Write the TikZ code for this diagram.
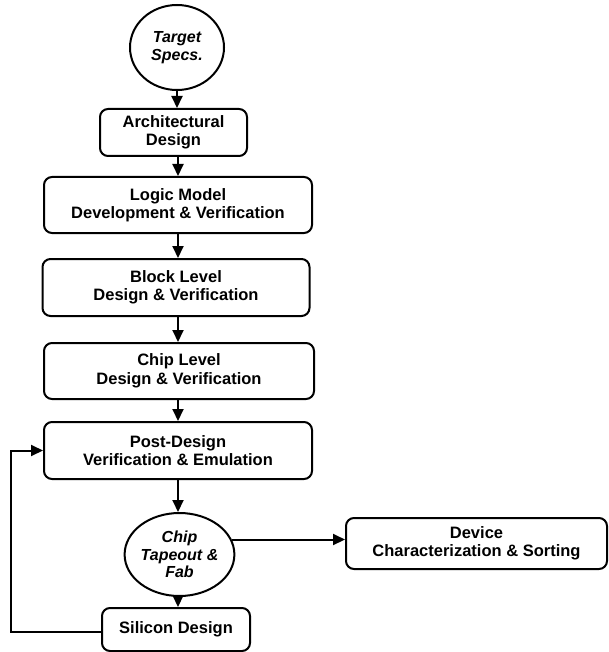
\documentclass[tikz,border=0pt]{standalone}
\usepackage{fontspec}
\setmainfont{Liberation Sans}
\usetikzlibrary{arrows.meta,shapes.geometric}
\tikzset{
  base/.style={draw, line width=2pt, inner sep=0pt, align=center,
    font=\fontsize{16.5}{18.5}\selectfont\bfseries},
  stepbox/.style={base, rounded corners=8pt},
  oval/.style={base, ellipse, font=\fontsize{16}{17.5}\selectfont\bfseries\itshape},
  arr/.style={line width=2pt, -{Triangle[length=12pt,width=11pt]}}
}
\begin{document}
\begin{tikzpicture}[x=1pt,y=-1pt]
\useasboundingbox (0,0) rectangle (608,652);
\node[oval, minimum width=94pt, minimum height=85pt] (target) at (177,47.5) {Target\\Specs.};
\node[stepbox, minimum width=147pt, minimum height=47pt] (arch) at (173.5,132.5) {Architectural\\Design};
\node[stepbox, minimum width=268pt, minimum height=56pt] (logic) at (178,205) {Logic Model\\Development \& Verification};
\node[stepbox, minimum width=267pt, minimum height=57pt] (block) at (176,287.5) {Block Level\\Design \& Verification};
\node[stepbox, minimum width=270pt, minimum height=56pt] (chiplvl) at (179,371) {Chip Level\\Design \& Verification};
\node[stepbox, minimum width=268pt, minimum height=57pt] (post) at (178,450.5) {Post-Design\\Verification \& Emulation};
\node[oval, minimum width=93pt, minimum height=83pt] (chip) at (179.5,554.5) {Chip\\Tapeout \&\\Fab};
\node[stepbox, minimum width=261pt, minimum height=51pt] (dev) at (476.5,543.5) {Device\\Characterization \& Sorting};
\node[stepbox, minimum width=148pt, minimum height=43pt] (sil) at (176,629.5) {Silicon Design};
\draw[arr] (target.south) -- (target.south |- arch.north);
\draw[arr] (logic.north |- arch.south) -- (logic.north);
\draw[arr] (logic.south) -- (logic.south |- block.north);
\draw[arr] (logic.south |- block.south) -- (logic.south |- chiplvl.north);
\draw[arr] (logic.south |- chiplvl.south) -- (logic.south |- post.north);
\draw[arr] (logic.south |- post.south) -- (logic.south |- chip.north);
\draw[arr] (logic.south |- chip.south) -- (logic.south |- sil.north);
\draw[arr] (chip.16) -- (chip.16 -| dev.west);
\draw[arr] ([yshift=-2pt]sil.west) -- ++(-90,0) |- (post.west);
\end{tikzpicture}
\end{document}
